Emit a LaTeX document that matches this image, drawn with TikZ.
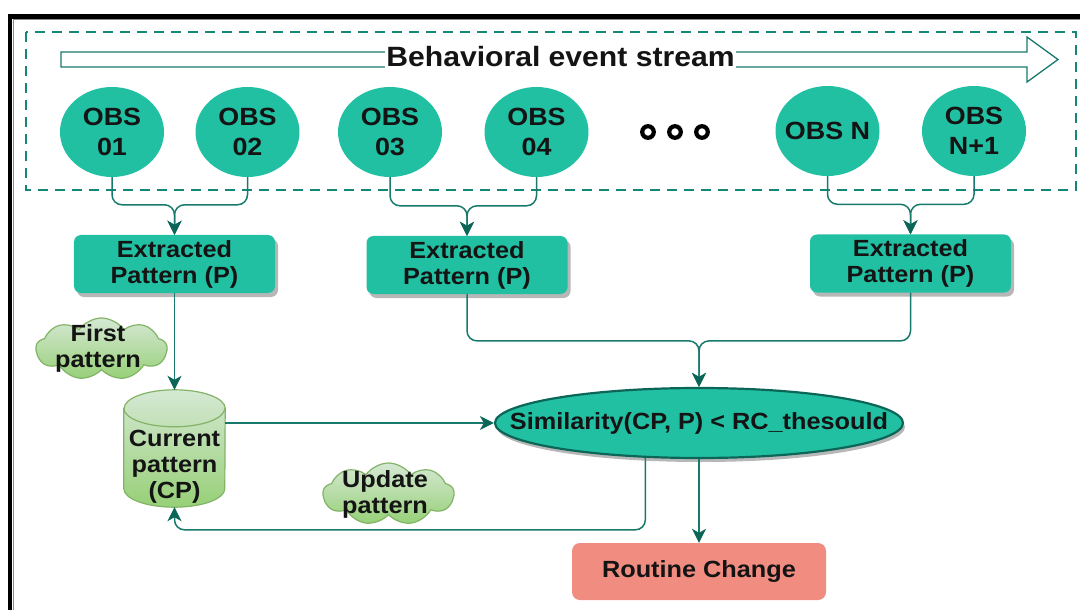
\documentclass[tikz,border=0pt]{standalone}
\usepackage{fontspec}
\setmainfont{Liberation Sans}[FakeStretch=1.08]
\usetikzlibrary{arrows.meta,shapes.geometric,shapes.symbols,shadows,calc}

\definecolor{tealfill}{RGB}{34,192,163}
\definecolor{tealline}{RGB}{24,122,108}
\definecolor{tealdark}{RGB}{12,102,88}
\definecolor{tealdash}{RGB}{20,135,118}
\definecolor{salmon}{RGB}{240,140,128}
\definecolor{greenlight}{RGB}{213,232,212}
\definecolor{greendark}{RGB}{151,208,119}
\definecolor{greenline}{RGB}{130,179,102}
\definecolor{ink}{RGB}{20,20,20}

\tikzset{
  txt/.style={font=\bfseries\fontsize{23.5}{26}\selectfont, text=ink, align=center},
  obs/.style={ellipse, fill=tealfill, draw=none, minimum width=104bp, minimum height=90bp,
    inner ysep=0pt, inner xsep=-18bp, txt, font=\bfseries\fontsize{25}{30}\selectfont},
  extbox/.style={rectangle, rounded corners=7bp, fill=tealfill, minimum width=201bp,
    minimum height=58bp, inner sep=0pt, txt,
    drop shadow={shadow xshift=3bp, shadow yshift=-4bp, fill=black!40, opacity=0.7}},
  simnode/.style={ellipse, fill=tealfill, draw=tealdark, line width=2.2bp,
    minimum width=408bp, minimum height=70bp, inner xsep=-60bp, inner ysep=0pt, txt,
    drop shadow={shadow xshift=2bp, shadow yshift=-4bp, fill=black!40, opacity=0.7}},
  resultbox/.style={rectangle, rounded corners=8bp, fill=salmon, minimum width=254bp,
    minimum height=57bp, inner sep=0pt, txt},
  cloudshape/.style={cloud, cloud puffs=9, cloud puff arc=110, aspect=2.1,
    minimum width=131bp, minimum height=62bp, inner sep=0pt,
    top color=greenlight, bottom color=greendark, draw=greenline, line width=1.2bp},
  conn/.style={draw=tealline, line width=1.5bp, rounded corners=10bp,
    -{Stealth[length=14bp, width=14bp, inset=4bp, color=tealdark]}},
}

\begin{document}
\begin{tikzpicture}[x=1bp, y=-1bp]
\useasboundingbox (0,0) rectangle (1080,610);
\clip (0,0) rectangle (1080,610);

% outer frame (continues past the right and bottom edges)
\draw[black, line width=4.5bp] (10,16.5) rectangle (1200,720);
\draw[black!45, line width=1bp] (13.6,20) rectangle (1200,720);

% observation group
\draw[tealdash, line width=2.5bp, dash pattern=on 10bp off 7bp] (26,32) rectangle (1076,190);

% stream arrow with its title
\draw[tealline, line width=1.3bp, fill=white]
  (61,52) -- (1027,52) -- (1027,37) -- (1058,59.5) -- (1027,82) -- (1027,67) -- (61,67) -- cycle;
\node[fill=white, inner xsep=1bp, inner ysep=1bp, text=ink,
  font=\bfseries\fontsize{28}{30}\selectfont] (title) at (560.5,57) {Behavioral event stream};

% observations
\node[obs] (o1) at (112,132) {OBS\\01};
\node[obs] (o2) at (247.5,132) {OBS\\02};
\node[obs] (o3) at (390,132) {OBS\\03};
\node[obs] (o4) at (536.5,132) {OBS\\04};
\node[obs] (on) at (827.5,131) {OBS N};
\node[obs] (on1) at (974,131) {OBS\\N+1};

% ellipsis between the observations
\foreach \dx in {648,675,702}
  \draw[black, line width=4.2bp] (\dx,132) circle[radius=5.8bp];

% extracted patterns
\node[extbox] (b1) at (174.5,264) {Extracted\\Pattern (P)};
\node[extbox] (b2) at (467,265) {Extracted\\Pattern (P)};
\node[extbox] (b3) at (910.5,263.5) {Extracted\\Pattern (P)};

% current pattern store (cylinder)
\node[minimum width=101bp, minimum height=117bp, inner sep=0pt] (cp) at (174.5,448.5) {};
\path[top color=greenlight, bottom color=greendark, draw=greenline, line width=1.2bp]
  ($(cp.north west)+(0,18.5)$) -- ($(cp.south west)+(0,-18.5)$)
  arc[start angle=180, end angle=360, x radius=50.5bp, y radius=18.5bp]
  -- ($(cp.north east)+(0,18.5)$)
  arc[start angle=0, end angle=180, x radius=50.5bp, y radius=18.5bp] -- cycle;
\draw[greenline, line width=1.2bp] ($(cp.north west)+(0,18.5)$)
  arc[start angle=180, end angle=360, x radius=50.5bp, y radius=18.5bp];
\node[txt] (cptext) at (174.5,467) {Current\\pattern\\(CP)};

% similarity test and result
\node[simnode] (sim) at (699,423) {Similarity(CP, P) < RC\_thesould};
\node[resultbox] (rc) at (699,571.5) {Routine Change};

% annotation clouds
\node[cloudshape] (c1) at (101.5,349) {};
\node[txt] (c1t) at (98,348) {First\\pattern};
\node[cloudshape] (c2) at (388.5,494) {};
\node[txt] (c2t) at (385,494) {Update\\pattern};

% connectors: observations to patterns
\draw[conn] (o1.south) |- ($(b1.north)+(0,-30)$) -- (b1.north);
\draw[conn] (o2.south) |- ($(b1.north)+(0,-30)$) -- (b1.north);
\draw[conn] (o3.south) |- ($(b2.north)+(0,-30)$) -- (b2.north);
\draw[conn] (o4.south) |- ($(b2.north)+(0,-30)$) -- (b2.north);
\draw[conn] (on.south) |- ($(b3.north)+(0,-30)$) -- (b3.north);
\draw[conn] (on1.south) |- ($(b3.north)+(0,-30)$) -- (b3.north);

% connectors: patterns to store and test
\draw[conn] (b1.south) -- (cp.north);
\draw[conn] (b2.south) |- ($(sim.north)+(0,-46)$) -- (sim.north);
\draw[conn] (b3.south) |- ($(sim.north)+(0,-46)$) -- (sim.north);
\draw[conn] (cp.east |- sim.west) -- (sim.west);

% connectors: test outcomes
\draw[conn] (sim.213) -- ++(0,72) -| (cp.south);
\draw[conn] (sim.south) -- (rc.north);
\end{tikzpicture}
\end{document}
